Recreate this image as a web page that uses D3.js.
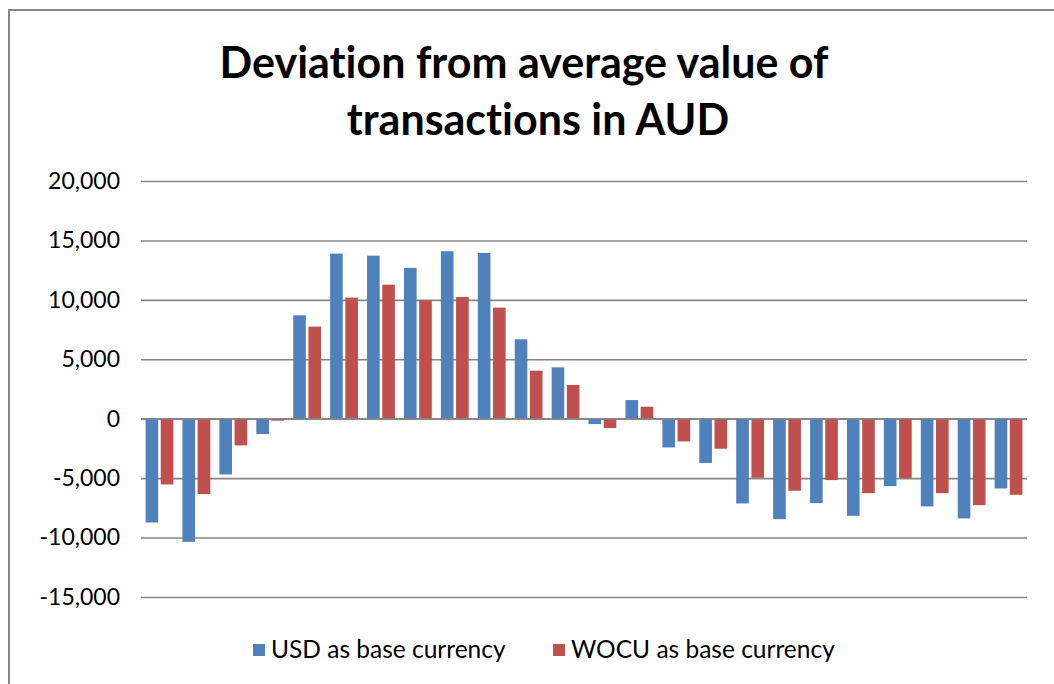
<!DOCTYPE html>
<html>
<head>
<meta charset="utf-8">
<script src="https://cdn.jsdelivr.net/npm/d3@7"></script>
<style>
  body { margin: 0; background: #fff; }
  svg { display: block; font-family: Lato, "Open Sans", sans-serif; font-variant-ligatures: none; }
</style>
</head>
<body>
<div id="chart"></div>
<script>
// data
var categories = d3.range(1, 25).map(String);
var seriesNames = ["USD as base currency", "WOCU as base currency"];
var usd = [-8730, -10360, -4690, -1290, 8700, 13890, 13720, 12690, 14090, 13950, 6680, 4320,
  -450, 1570, -2415, -3730, -7130, -8450, -7100, -8170, -5670, -7380, -8390, -5870];
var wocu = [-5530, -6340, -2245, -170, 7750, 10190, 11280, 9960, 10245, 9345, 4040, 2835,
  -785, 1010, -1910, -2525, -4970, -6060, -5165, -6260, -4995, -6260, -7270, -6400];
var yTicks = [-15000, -10000, -5000, 0, 5000, 10000, 15000, 20000];
var colors = ["#4F81BD", "#C0504D"];

var width = 1054, height = 684;
var plot = { left: 141, right: 1027, top: 181, bottom: 597 };

var svg = d3.select("#chart").append("svg")
  .attr("width", width)
  .attr("height", height);

// chart frame
svg.append("rect")
  .attr("x", 9).attr("y", 10)
  .attr("width", width).attr("height", height)
  .attr("fill", "#fff")
  .attr("stroke", "#868686")
  .attr("stroke-width", 2);

// title
var title = svg.append("text")
  .attr("text-anchor", "middle")
  .attr("font-weight", "bold")
  .attr("font-size", 43)
  .attr("fill", "#000");
title.append("tspan").attr("x", 524).attr("y", 78).text("Deviation from average value of");
title.append("tspan").attr("x", 538).attr("y", 135).text("transactions in AUD");

// scales
var x0 = d3.scaleBand()
  .domain(categories)
  .range([plot.left, plot.right])
  .padding(0);

var x1 = d3.scaleBand()
  .domain(seriesNames)
  .range([0, x0.bandwidth()])
  .paddingInner(0.17)
  .paddingOuter(0.3);

var y = d3.scaleLinear()
  .domain([-15000, 20000])
  .range([plot.bottom, plot.top]);

// gridlines
var yAxis = d3.axisLeft(y)
  .tickValues(yTicks)
  .tickSize(-(plot.right - plot.left))
  .tickPadding(21)
  .tickFormat(d3.format(",.0f"));

var gy = svg.append("g")
  .attr("transform", "translate(" + plot.left + ",0)")
  .call(yAxis);
gy.select(".domain").remove();
gy.selectAll(".tick line")
  .attr("stroke", "#868686")
  .attr("stroke-width", 1.6);
gy.selectAll(".tick text")
  .attr("font-size", 23)
  .attr("fill", "#000")
  .attr("font-family", "Lato, sans-serif")
  .text(function(d) { return d3.format(",.0f")(d).replace("−", "-"); });

// bars
var rows = categories.map(function(c, i) {
  return { cat: c, values: [usd[i], wocu[i]] };
});

var groups = svg.append("g").selectAll("g")
  .data(rows)
  .enter().append("g")
  .attr("transform", function(d) { return "translate(" + x0(d.cat) + ",0)"; });

groups.selectAll("rect")
  .data(function(d) {
    return d.values.map(function(v, j) { return { name: seriesNames[j], value: v, j: j }; });
  })
  .enter().append("rect")
  .attr("x", function(d) { return x1(d.name); })
  .attr("width", x1.bandwidth())
  .attr("y", function(d) { return y(Math.max(0, d.value)); })
  .attr("height", function(d) { return Math.abs(y(d.value) - y(0)); })
  .attr("fill", function(d) { return colors[d.j]; });

// zero line on top
svg.append("line")
  .attr("x1", plot.left).attr("x2", plot.right)
  .attr("y1", y(0)).attr("y2", y(0))
  .attr("stroke", "#868686")
  .attr("stroke-width", 1.6);

// legend
var legendX = [253, 553];
var legend = svg.append("g").selectAll("g")
  .data(seriesNames)
  .enter().append("g")
  .attr("transform", function(d, i) { return "translate(" + legendX[i] + ",644)"; });

legend.append("rect")
  .attr("width", 12).attr("height", 12)
  .attr("fill", function(d, i) { return colors[i]; });

legend.append("text")
  .attr("x", 18)
  .attr("y", 14)
  .attr("font-size", 24.5)
  .attr("fill", "#000")
  .text(function(d) { return d; });
</script>
</body>
</html>
